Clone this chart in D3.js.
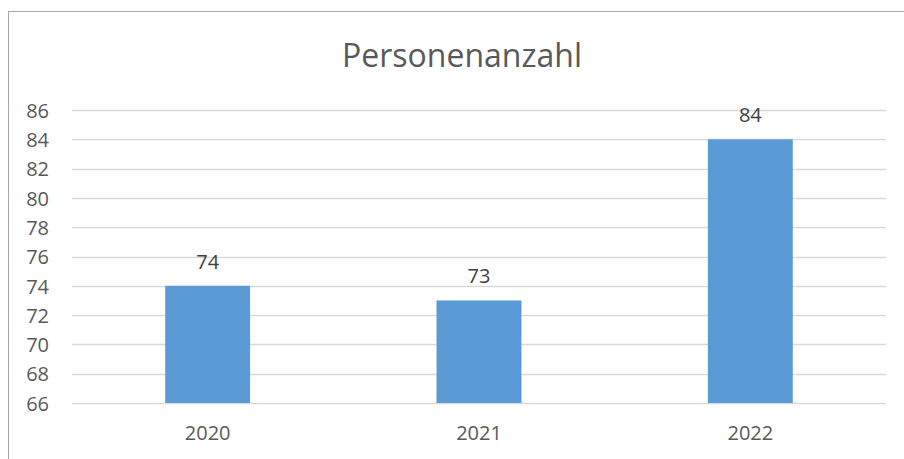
<!DOCTYPE html>
<html>
<head>
<meta charset="utf-8">
<script src="https://cdn.jsdelivr.net/npm/d3@7"></script>
<style>
  body { margin: 0; background: #fff; }
  svg { display: block; }
  svg text { font-family: "Open Sans", sans-serif; }
</style>
</head>
<body>
<svg width="904" height="459"></svg>
<script>
// data
var years = ["2020", "2021", "2022"];
var values = [74, 73, 84];
var yTicks = [66, 68, 70, 72, 74, 76, 78, 80, 82, 84, 86];
var title = "Personenanzahl";

var svg = d3.select("svg");

// chart frame
svg.append("rect")
  .attr("x", 8.5).attr("y", 11.5)
  .attr("width", 920).attr("height", 480)
  .attr("fill", "none")
  .attr("stroke", "#a6a6a6")
  .attr("stroke-width", 1);

var x = d3.scaleBand()
  .domain(years)
  .range([72, 886])
  .paddingInner(0.687)
  .paddingOuter(0.3435);

var y = d3.scaleLinear()
  .domain([66, 86])
  .range([403, 110]);

// gridlines
svg.append("g")
  .selectAll("line")
  .data(yTicks)
  .enter()
  .append("line")
    .attr("x1", 72).attr("x2", 886)
    .attr("y1", function(d){ return Math.round(y(d)) + 0.5 })
    .attr("y2", function(d){ return Math.round(y(d)) + 0.5 })
    .attr("stroke", "#d9d9d9")
    .attr("stroke-width", 1.3);

// y axis labels
var yAxis = d3.axisLeft(y).tickValues(yTicks).tickSize(0).tickPadding(0);
var gy = svg.append("g")
  .attr("transform", "translate(49,0)")
  .call(yAxis)
  .attr("font-family", null);
gy.select(".domain").remove();
gy.selectAll("text")
  .attr("fill", "#595959")
  .style("font-size", "20px")
  .attr("dy", "0.36em");

// x axis labels
var xAxis = d3.axisBottom(x).tickSize(0).tickPadding(0);
var gx = svg.append("g")
  .attr("transform", "translate(0,426)")
  .call(xAxis)
  .attr("font-family", null);
gx.select(".domain").remove();
gx.selectAll("text")
  .attr("fill", "#595959")
  .style("font-size", "20px")
  .attr("dy", "0.72em");

// bars
svg.append("g")
  .selectAll("rect")
  .data(values)
  .enter()
  .append("rect")
    .attr("x", function(d, i){ return x(years[i]) })
    .attr("width", x.bandwidth())
    .attr("y", function(d){ return y(d) })
    .attr("height", function(d){ return y(66) - y(d) })
    .attr("fill", "#5b9bd5");

// data labels
svg.append("g")
  .selectAll("text")
  .data(values)
  .enter()
  .append("text")
    .attr("x", function(d, i){ return x(years[i]) + x.bandwidth() / 2 })
    .attr("y", function(d){ return y(d) - 17 })
    .attr("text-anchor", "middle")
    .attr("fill", "#404040")
    .style("font-size", "20px")
    .text(function(d){ return d });

// title
svg.append("text")
  .attr("x", 462)
  .attr("y", 67)
  .attr("text-anchor", "middle")
  .attr("fill", "#595959")
  .style("font-size", "32px")
  .text(title);
</script>
</body>
</html>
